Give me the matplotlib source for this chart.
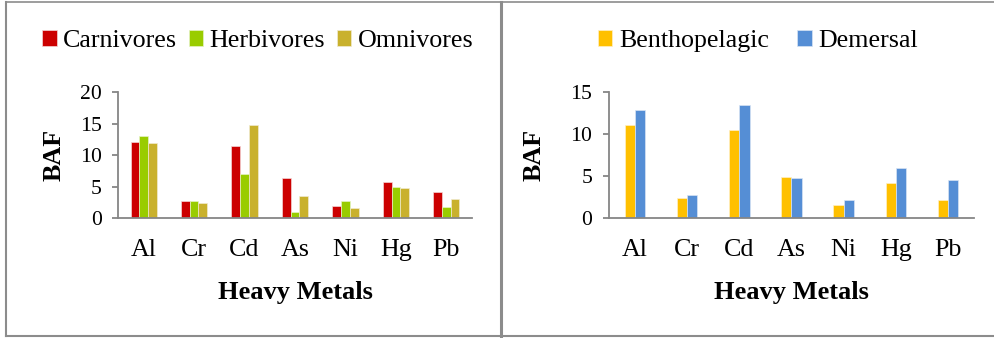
import numpy as np
import matplotlib
matplotlib.use("Agg")
import matplotlib.pyplot as plt
from matplotlib.lines import Line2D

metals = ["Al", "Cr", "Cd", "As", "Ni", "Hg", "Pb"]

carnivores = [12.1, 2.7, 11.5, 6.4, 2.0, 5.7, 4.2]
herbivores = [13.1, 2.7, 7.0, 0.95, 2.8, 4.9, 1.85]
omnivores = [12.0, 2.4, 14.8, 3.6, 1.6, 4.8, 3.1]

benthopelagic = [11.15, 2.4, 10.5, 4.95, 1.55, 4.2, 2.2]
demersal = [12.9, 2.8, 13.5, 4.8, 2.2, 6.0, 4.55]

plt.rcParams['font.family'] = ['Liberation Serif', 'DejaVu Serif']

W, H = 995, 338
fig = plt.figure(figsize=(W / 100, H / 100), dpi=100)

def px(x0, y0, x1, y1):
    # pixel box (left, top, right, bottom) -> figure fraction rect
    return [x0 / W, 1 - y1 / H, (x1 - x0) / W, (y1 - y0) / H]

ax1 = fig.add_axes(px(118.3, 92.3, 471.7, 218.3))
ax2 = fig.add_axes(px(609, 92.3, 974, 218.3))

grey = "#868686"
x = np.arange(len(metals))


def style(ax, ymax):
    ax.set_xlim(-0.5, len(metals) - 0.5)
    ax.set_ylim(0, ymax)
    ax.set_yticks(np.arange(0, ymax + 1, 5))
    ax.set_xticks(x)
    ax.set_xticklabels(metals, fontsize=18.7)
    for s in ["top", "right"]:
        ax.spines[s].set_visible(False)
    for s in ["left", "bottom"]:
        ax.spines[s].set_color(grey)
        ax.spines[s].set_linewidth(1.3)
    ax.tick_params(axis="y", length=4, width=1.3, color=grey, labelsize=15.6, pad=8)
    ax.tick_params(axis="x", length=0, pad=15)
    ax.set_xlabel("Heavy Metals", fontsize=19, fontweight="bold", labelpad=14)
    ax.set_ylabel("BAF", fontsize=18.7, fontweight="bold")


# left: feeding groups
w1 = 0.172
ax1.bar(x - w1, carnivores, w1, color="#CC0000", edgecolor="#f4d6d6", linewidth=0.5, label="Carnivores")
ax1.bar(x, herbivores, w1, color="#99CC00", edgecolor="#e6f2c4", linewidth=0.5, label="Herbivores")
ax1.bar(x + w1, omnivores, w1, color="#C9B12D", edgecolor="#f0ead0", linewidth=0.5, label="Omnivores")
style(ax1, 20)
ax1.yaxis.set_label_coords(-0.148, 0.5)

# right: habitat groups
w2 = 0.196
ax2.bar(x - w2 / 2, benthopelagic, w2, color="#FFC000", edgecolor="#fff0c4", linewidth=0.5, label="Benthopelagic")
ax2.bar(x + w2 / 2, demersal, w2, color="#558ED5", edgecolor="#d8e4f4", linewidth=0.5, label="Demersal")
style(ax2, 15)
ax2.yaxis.set_label_coords(-0.175, 0.5)

leg_kw = dict(loc="center", frameon=False, fontsize=18.7, handlelength=0.55,
              handleheight=0.55, handletextpad=0.25, borderaxespad=0)
fig.legend(*ax1.get_legend_handles_labels(), ncol=3, columnspacing=0.45,
           bbox_to_anchor=(258 / W, 1 - 41 / H), **leg_kw)
fig.legend(*ax2.get_legend_handles_labels(), ncol=2, columnspacing=1.1,
           bbox_to_anchor=(758 / W, 1 - 41 / H), **leg_kw)

# panel borders
border = "#8c8c8c"
def fline(xs, ys, lw):
    fig.add_artist(Line2D([v / W for v in xs], [1 - v / H for v in ys],
                          color=border, linewidth=lw, transform=fig.transFigure))

fline([6.5, 995], [2, 2], 1.2)
fline([6.5, 995], [335.8, 335.8], 1.5)
fline([6.5, 6.5], [2, 336], 1.5)
fline([501.5, 501.5], [2, 336], 2.2)

fig.savefig("out.png", dpi=100)
